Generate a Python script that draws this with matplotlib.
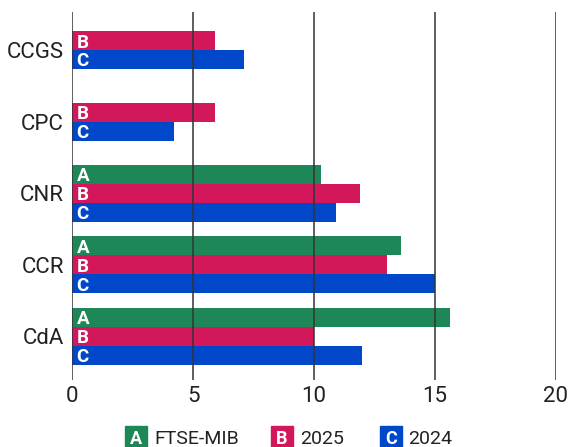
import matplotlib.pyplot as plt
from matplotlib.patches import Rectangle

plt.rcParams["font.family"] = ["Roboto", "DejaVu Sans"]

categories = ["CCGS", "CPC", "CNR", "CCR", "CdA"]
series_names = ["FTSE-MIB", "2025", "2024"]
series_letters = ["A", "B", "C"]
ftse_mib = [None, None, 10.3, 13.6, 15.6]
values_2025 = [5.9, 5.9, 11.9, 13.0, 10.0]
values_2024 = [7.1, 4.2, 10.9, 15.0, 12.0]
x_ticks = [0, 5, 10, 15, 20]

colors = ["#1e8757", "#d3175b", "#0047c9"]
bar_h = 0.265
text_color = "#222222"
W, H = 569, 447

fig = plt.figure(figsize=(W / 100, H / 100), dpi=100)
ax = fig.add_axes([0.127, 0.150, 0.850, 0.823])

series = [ftse_mib, values_2025, values_2024]
for i, cat in enumerate(categories):
    present = [s for s in range(3) if series[s][i] is not None]
    n = len(present)
    for k, s in enumerate(present):
        y = i + (k - (n - 1) / 2) * bar_h
        ax.barh(y, series[s][i], height=bar_h, color=colors[s], zorder=2)
        ax.text(0.18, y, series_letters[s], color="white", fontsize=13.5,
                fontweight="bold", va="center_baseline", ha="left", zorder=4)

for x in x_ticks:
    ax.axvline(x, color="#333333", linewidth=1.1, zorder=3)

ax.set_xlim(0, 20)
ax.set_ylim(4.61, -0.53)
ax.set_xticks(x_ticks)
ax.set_yticks(range(len(categories)))
ax.set_yticklabels(categories)
ax.tick_params(axis="both", length=0, labelsize=16, colors=text_color)
ax.tick_params(axis="x", pad=4)
ax.tick_params(axis="y", pad=6)
for sp in ax.spines.values():
    sp.set_visible(False)

# legend row along the bottom edge: coloured square with letter, then name
box_left = [125, 271, 380]
name_left = [154, 300, 408]
box_w = 22
for bx, nx, letter, name, c in zip(box_left, name_left, series_letters,
                                   series_names, colors):
    fig.patches.append(Rectangle((bx / W, -0.01), box_w / W, 0.057,
                                 transform=fig.transFigure, color=c))
    fig.text((bx + box_w / 2) / W, 3 / H, letter, color="white", fontsize=13,
             fontweight="bold", ha="center", va="baseline")
    fig.text(nx / W, 3 / H, name, color=text_color, fontsize=14,
             ha="left", va="baseline")

fig.savefig("out.png", dpi=100)
